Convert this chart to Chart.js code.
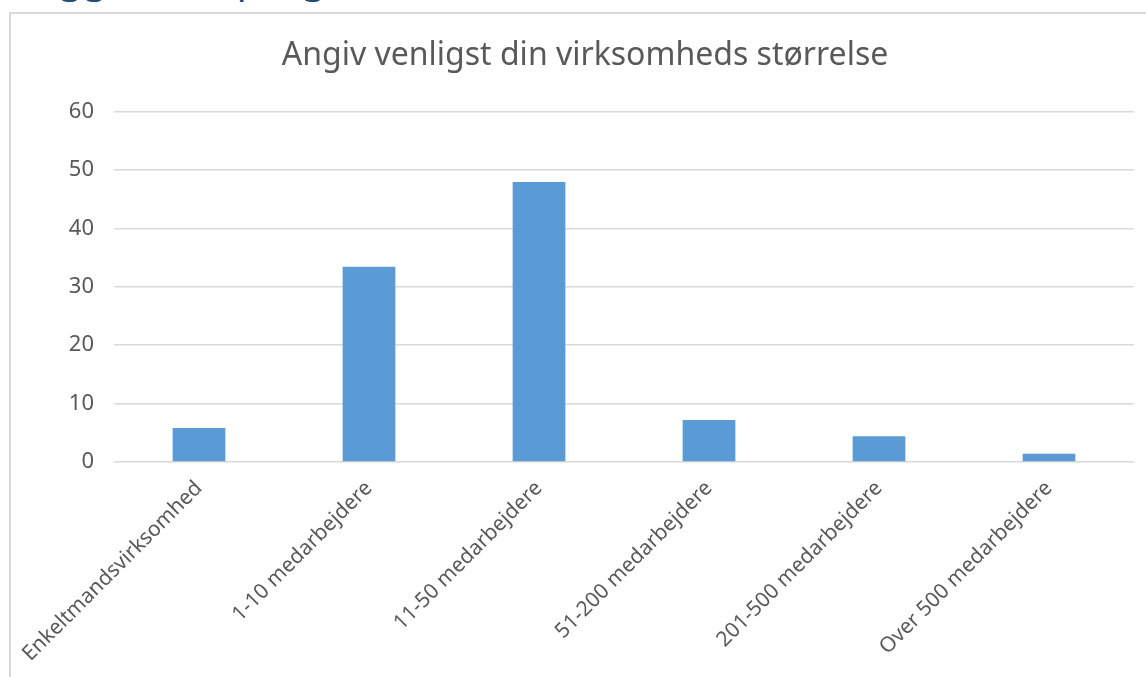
<!DOCTYPE html>
<html>
<head>
<meta charset="utf-8">
<script src="https://cdn.jsdelivr.net/npm/chart.js@4/dist/chart.umd.min.js"></script>
<style>
  html, body { margin: 0; padding: 0; background: #ffffff; overflow: hidden; }
  #heading {
    position: absolute; left: 10px; top: -43px;
    font-family: "Noto Sans", sans-serif; font-size: 40px; line-height: 40px;
    color: #1f4e79; white-space: nowrap;
  }
  #box {
    position: absolute; left: 9px; top: 12px; width: 1200px; height: 700px;
    border-left: 2px solid #d9d9d9; border-top: 2px solid #d9d9d9;
  }
  #wrap { position: absolute; left: 0; top: 0; width: 1146px; height: 677px; }
</style>
</head>
<body>
<div id="heading">Baggrundsspørgsmål</div>
<div id="box"></div>
<div id="wrap"><canvas id="sizeChart"></canvas></div>
<script>
// data
var categories = [ "Enkeltmandsvirksomhed", "1-10 medarbejdere", "11-50 medarbejdere",
    "51-200 medarbejdere", "201-500 medarbejdere", "Over 500 medarbejdere" ];
var shares = [ 5.8, 33.4, 47.9, 7.2, 4.4, 1.4 ];
var yTicks = [ 0, 10, 20, 30, 40, 50, 60 ];
var chartTitle = "Angiv venligst din virksomheds størrelse";

function sizeChart() {
    var ctx = document.getElementById("sizeChart");
    var textColor = '#595959';
    var chart = new Chart(ctx, {
	type : 'bar',
	data : {
	    labels : categories,
	    datasets : [ {
		label : chartTitle,
		backgroundColor : '#5b9bd5',
		borderWidth : 0,
		data : shares,
		categoryPercentage : 1,
		barPercentage : 0.31
	    } ]
	},
	options : {
	    responsive : true,
	    maintainAspectRatio : false,
	    animation : false,
	    // left padding pushes the centred title to the right like the original
	    layout : { padding : { left : 36, right : 12, top : 12, bottom : 0 } },
	    plugins : {
		legend : { display : false },
		tooltip : { enabled : false },
		title : {
		    display : true,
		    text : chartTitle,
		    color : textColor,
		    font : { family : 'Noto Sans', size : 32, weight : 'normal' },
		    padding : { top : 25, bottom : 36 }
		}
	    },
	    scales : {
		x : {
		    grid : { display : false },
		    border : { display : false },
		    ticks : {
			color : textColor,
			font : { family : 'Noto Sans', size : 21 },
			minRotation : 45,
			maxRotation : 45,
			autoSkip : false,
			padding : 6
		    },
		    afterFit : function(scale) { scale.height = 215; }
		},
		y : {
		    min : yTicks[0],
		    max : yTicks[yTicks.length - 1],
		    afterBuildTicks : function(scale) {
			scale.ticks = yTicks.map(function(v) { return { value : v }; });
		    },
		    grid : { color : '#d9d9d9', lineWidth : 1.5, drawTicks : false },
		    border : { display : false },
		    ticks : {
			color : textColor,
			font : { family : 'Noto Sans', size : 22 },
			padding : 20
		    },
		    afterFit : function(scale) { scale.width = 78; }
		}
	    }
	}
    });
}

sizeChart();
</script>
</body>
</html>
